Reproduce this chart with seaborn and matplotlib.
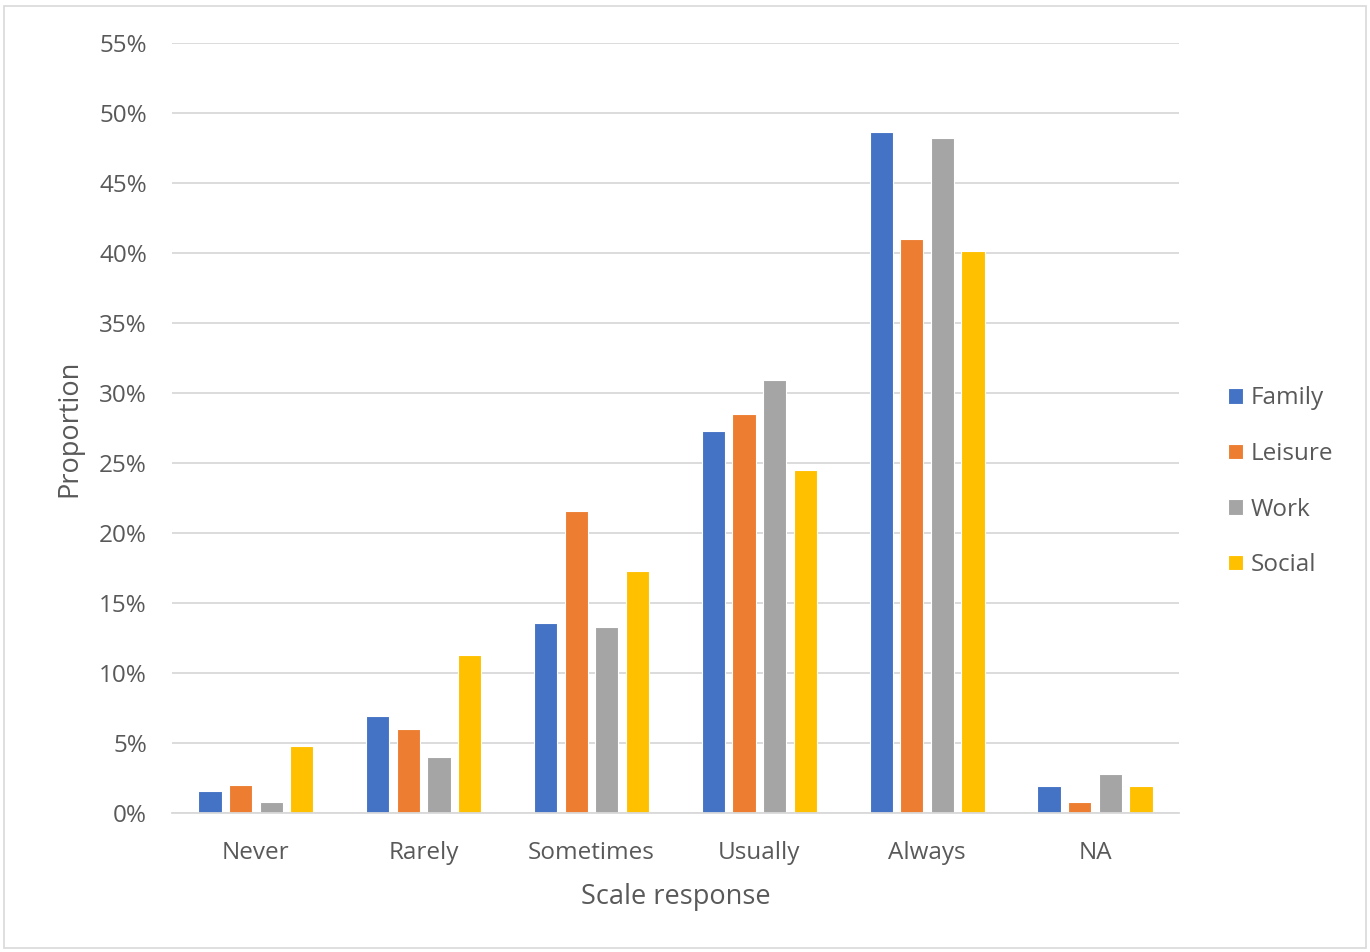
import numpy as np
import pandas as pd
import matplotlib
matplotlib.use('Agg')
import matplotlib.pyplot as plt
import seaborn as sns
from matplotlib.ticker import PercentFormatter
from matplotlib.patches import Rectangle

# ── Datos ──────────────────────────────────────────────────────────────────
categorias = ["Never", "Rarely", "Sometimes", "Usually", "Always", "NA"]
family  = [0.016, 0.069, 0.136, 0.273, 0.486, 0.019]
leisure = [0.020, 0.060, 0.216, 0.285, 0.410, 0.008]
work    = [0.008, 0.040, 0.133, 0.309, 0.482, 0.028]
social  = [0.048, 0.113, 0.173, 0.245, 0.401, 0.019]
series  = ["Family", "Leisure", "Work", "Social"]
colores = ["#4472C4", "#ED7D31", "#A5A5A5", "#FFC000"]

df = pd.DataFrame({"Family": family, "Leisure": leisure,
                   "Work": work, "Social": social}, index=categorias)
df = df.reset_index(names="Scale").melt(id_vars="Scale", var_name="Domain",
                                        value_name="Proportion")

sns.set_style("white")
plt.rcParams['font.family'] = ['Open Sans', 'DejaVu Sans']

fig = plt.figure(figsize=(13.7, 9.52), dpi=100)
ax = fig.add_axes([0.1255, 0.146, 0.735, 0.809])

sns.barplot(data=df, x="Scale", y="Proportion", hue="Domain",
            order=categorias, hue_order=series, palette=colores, saturation=1,
            width=0.73, gap=0.24, edgecolor="white", linewidth=0.8, ax=ax)

ax.set_ylim(0, 0.55)
ax.set_yticks(np.arange(0, 0.551, 0.05))
ax.yaxis.set_major_formatter(PercentFormatter(1.0, decimals=0))
ax.grid(axis='y', color="#D9D9D9", linewidth=1.3)
ax.set_axisbelow(True)
for s in ["top", "right", "left"]:
    ax.spines[s].set_visible(False)
ax.spines["bottom"].set_color("#D9D9D9")
ax.spines["bottom"].set_linewidth(1.3)
ax.tick_params(axis='both', length=0, labelsize=17.5, colors="#595959")
ax.tick_params(axis='x', pad=20)
ax.tick_params(axis='y', pad=18)
ax.set_xlim(-0.5, 5.5)

ax.set_xlabel("Scale response", fontsize=19.5, color="#595959", labelpad=13)
ax.set_ylabel("Proportion", fontsize=19.5, color="#595959", labelpad=11)

ax.legend(title=None, loc="center left", bbox_to_anchor=(1.027, 0.43),
          frameon=False, fontsize=17.5, labelcolor="#595959",
          handlelength=0.6, handleheight=0.6, handletextpad=0.35,
          labelspacing=1.3)

fig.patches.append(Rectangle((0.003, 0.004), 0.994, 0.99, transform=fig.transFigure,
                             fill=False, edgecolor="#D9D9D9", linewidth=1.2))

plt.savefig("out.png", dpi=100)
plt.close()
